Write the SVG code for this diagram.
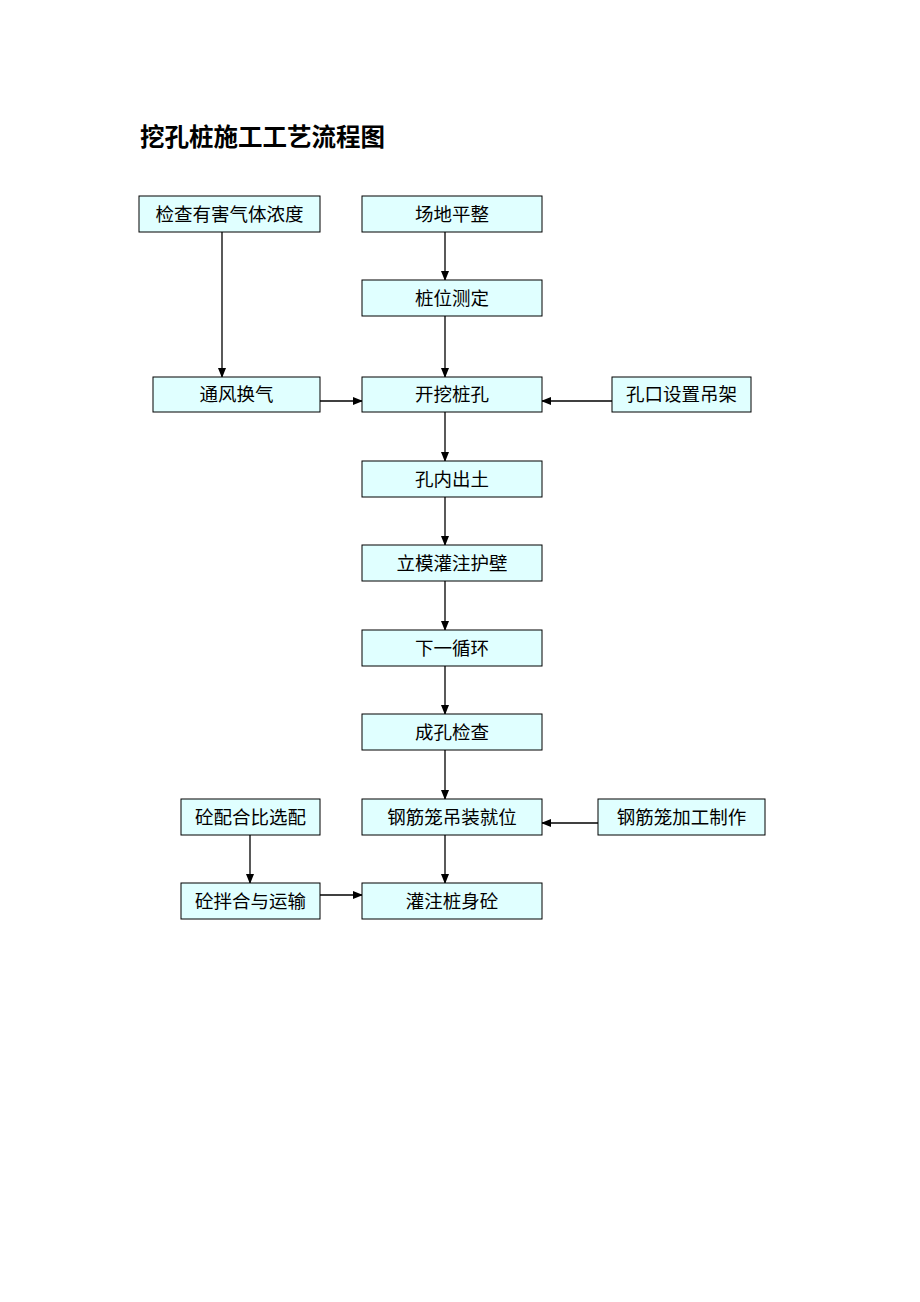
<svg xmlns="http://www.w3.org/2000/svg" width="920" height="1302" viewBox="0 0 920 1302">
<defs>
<marker id="ah" markerWidth="10" markerHeight="8" refX="9" refY="4" orient="auto" markerUnits="userSpaceOnUse">
<path d="M0,0 L10,4 L0,8 Z" fill="#000"/>
</marker>
<style>
.box{fill:#E0FFFF;stroke:#000;stroke-width:1}
.t{font-family:"Liberation Sans","Noto Sans CJK SC",sans-serif;font-size:18.5px;fill:#000;text-anchor:middle;dominant-baseline:central}
.c{stroke:#000;stroke-width:1.3;fill:none;marker-end:url(#ah)}
</style>
</defs>
<rect width="920" height="1302" fill="#fff"/>
<text x="140" y="146" font-family="Liberation Sans,'Noto Sans CJK SC',sans-serif" font-size="24.5" font-weight="bold">挖孔桩施工工艺流程图</text>
<g id="connectors">
<line class="c" x1="445" y1="232" x2="445" y2="280"/>
<line class="c" x1="445" y1="316" x2="445" y2="377"/>
<line class="c" x1="222" y1="232" x2="222" y2="377"/>
<line class="c" x1="320" y1="401" x2="362" y2="401"/>
<line class="c" x1="612" y1="401" x2="542" y2="401"/>
<line class="c" x1="445" y1="412" x2="445" y2="461"/>
<line class="c" x1="445" y1="497" x2="445" y2="545"/>
<line class="c" x1="445" y1="581" x2="445" y2="630"/>
<line class="c" x1="445" y1="666" x2="445" y2="714"/>
<line class="c" x1="445" y1="750" x2="445" y2="799"/>
<line class="c" x1="598" y1="823" x2="542" y2="823"/>
<line class="c" x1="445" y1="835" x2="445" y2="883"/>
<line class="c" x1="250" y1="835" x2="250" y2="883"/>
<line class="c" x1="320" y1="895" x2="362" y2="895"/>
</g>
<g id="n1"><rect class="box" x="139" y="196" width="181" height="36"/><text class="t" x="229.5" y="214">检查有害气体浓度</text></g>
<g id="n2"><rect class="box" x="362" y="196" width="180" height="36"/><text class="t" x="452" y="214">场地平整</text></g>
<g id="n3"><rect class="box" x="362" y="280" width="180" height="36"/><text class="t" x="452" y="298">桩位测定</text></g>
<g id="n4"><rect class="box" x="153" y="377" width="167" height="35"/><text class="t" x="236.5" y="394.5">通风换气</text></g>
<g id="n5"><rect class="box" x="362" y="377" width="180" height="35"/><text class="t" x="452" y="394.5">开挖桩孔</text></g>
<g id="n6"><rect class="box" x="612" y="377" width="139" height="35"/><text class="t" x="681.5" y="394.5">孔口设置吊架</text></g>
<g id="n7"><rect class="box" x="362" y="461" width="180" height="36"/><text class="t" x="452" y="479">孔内出土</text></g>
<g id="n8"><rect class="box" x="362" y="545" width="180" height="36"/><text class="t" x="452" y="563">立模灌注护壁</text></g>
<g id="n9"><rect class="box" x="362" y="630" width="180" height="36"/><text class="t" x="452" y="648">下一循环</text></g>
<g id="n10"><rect class="box" x="362" y="714" width="180" height="36"/><text class="t" x="452" y="732">成孔检查</text></g>
<g id="n11"><rect class="box" x="362" y="799" width="180" height="36"/><text class="t" x="452" y="817">钢筋笼吊装就位</text></g>
<g id="n12"><rect class="box" x="598" y="799" width="167" height="36"/><text class="t" x="681.5" y="817">钢筋笼加工制作</text></g>
<g id="n13"><rect class="box" x="181" y="799" width="139" height="36"/><text class="t" x="250.5" y="817">砼配合比选配</text></g>
<g id="n14"><rect class="box" x="181" y="883" width="139" height="36"/><text class="t" x="250.5" y="901">砼拌合与运输</text></g>
<g id="n15"><rect class="box" x="362" y="883" width="180" height="36"/><text class="t" x="452" y="901">灌注桩身砼</text></g>
</svg>
